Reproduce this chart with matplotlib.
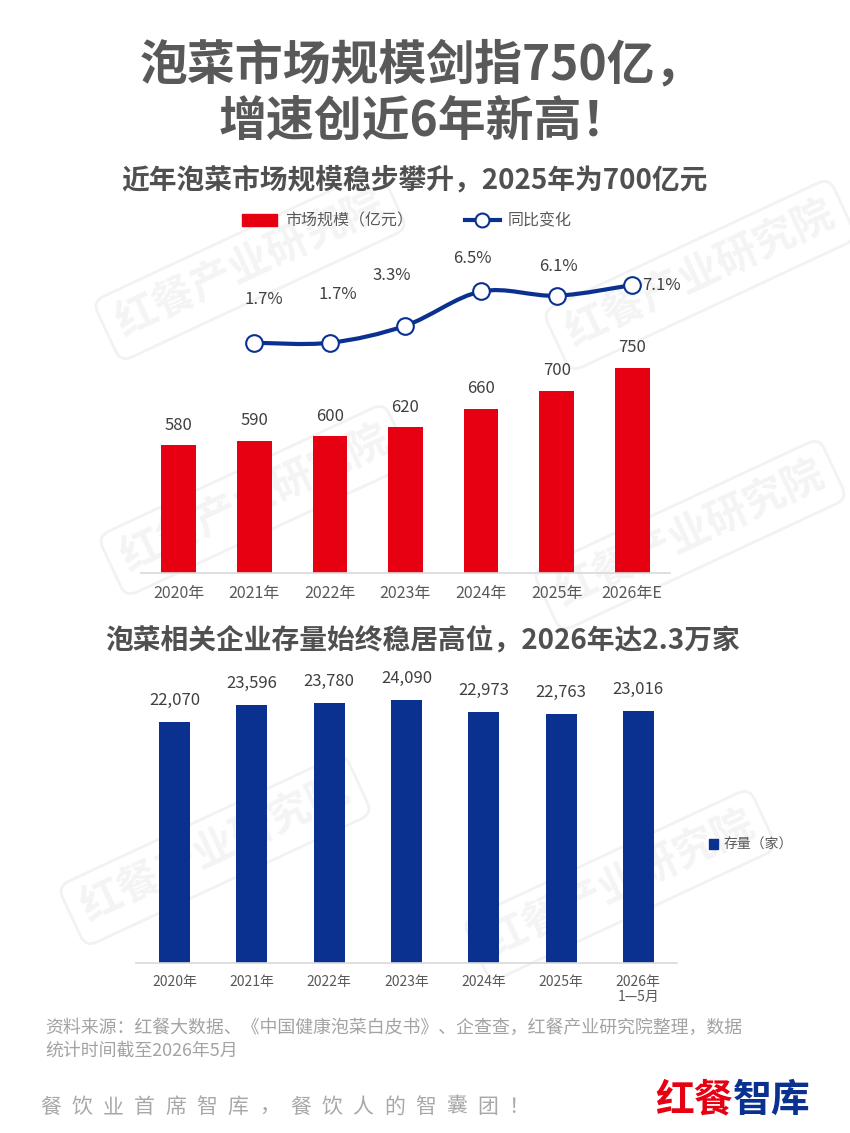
import numpy as np
import matplotlib
matplotlib.use('Agg')
import matplotlib.pyplot as plt
from matplotlib.path import Path
from matplotlib.patches import PathPatch, Patch
from matplotlib.lines import Line2D

plt.rcParams['font.family'] = ['Noto Sans CJK SC', 'DejaVu Sans']

# ---------------- data ----------------
years1 = ['2020年', '2021年', '2022年', '2023年', '2024年', '2025年', '2026年E']
market_size = [580, 590, 600, 620, 660, 700, 750]
yoy_idx = [1, 2, 3, 4, 5, 6]
yoy_growth = [1.7, 1.7, 3.3, 6.5, 6.1, 7.1]
years2 = ['2020年', '2021年', '2022年', '2023年', '2024年', '2025年', '2026年\n1—5月']
stock = [22070, 23596, 23780, 24090, 22973, 22763, 23016]

# ---------------- style ----------------
RED = '#E60012'
BLUE = '#0B3190'
TXT = '#595959'
LBL = '#404040'
W, H = 850, 1133

def fx(px):
    return px / W

def fy(py):
    return 1 - py / H

fig = plt.figure(figsize=(8.5, 11.33), dpi=100)

# watermarks
for (wx, wy) in [(250, 265), (700, 275), (255, 500), (690, 535), (215, 850), (620, 885)]:
    fig.text(fx(wx), fy(wy), '红餐产业研究院', rotation=25, fontsize=30, color='#f4f4f4',
             ha='center', va='center', fontweight='bold', zorder=-5,
             bbox=dict(boxstyle='round,pad=0.3', facecolor='none', edgecolor='#f2f2f2', lw=2))

# titles
fig.text(fx(421), fy(65), '泡菜市场规模剑指750亿，', ha='center', va='center',
         fontsize=34.5, fontweight='bold', color=TXT)
fig.text(fx(424), fy(121), '增速创近6年新高！', ha='center', va='center',
         fontsize=34.5, fontweight='bold', color=TXT)
fig.text(fx(414), fy(180), '近年泡菜市场规模稳步攀升，2025年为700亿元', ha='center', va='center',
         fontsize=20, fontweight='bold', color='#505050')
fig.text(fx(423), fy(640), '泡菜相关企业存量始终稳居高位，2026年达2.3万家', ha='center', va='center',
         fontsize=20, fontweight='bold', color='#505050')

# ---------------- chart 1 ----------------
ax1 = fig.add_axes([fx(141), fy(573), fx(529), (573 - 250) / H])
ax1.patch.set_alpha(0)
x1 = np.arange(len(years1))
ax1.bar(x1, market_size, width=0.46, color=RED, zorder=2)
ax1.set_xlim(-0.5, len(years1) - 0.5)
ax1.set_ylim(300, 1009)
ax1.set_xticks(x1)
ax1.set_xticklabels(years1)
ax1.tick_params(axis='x', length=0, pad=8.5, labelsize=11.5, labelcolor=TXT)
ax1.set_yticks([])
for s in ['top', 'left', 'right']:
    ax1.spines[s].set_visible(False)
ax1.spines['bottom'].set_color('#d9d9d9')
ax1.spines['bottom'].set_linewidth(1.2)
for xi, v in zip(x1, market_size):
    ax1.annotate(f'{v}', xy=(xi, v), xytext=(0, 14.5), textcoords='offset points',
                 ha='center', va='center', fontsize=12, color=LBL)

ax1b = ax1.twinx()
ax1b.set_ylim(-19.85, 10.38)
ax1b.set_yticks([])
for s in ax1b.spines.values():
    s.set_visible(False)

P = np.column_stack([np.array(yoy_idx, float), np.array(yoy_growth, float)])
n = len(P)
verts = [P[0]]
codes = [Path.MOVETO]
for i in range(n - 1):
    p0 = P[max(i - 1, 0)]
    p1 = P[i]
    p2 = P[i + 1]
    p3 = P[min(i + 2, n - 1)]
    verts += [p1 + (p2 - p0) / 6, p2 - (p3 - p1) / 6, p2]
    codes += [Path.CURVE4] * 3
ax1b.add_patch(PathPatch(Path(verts, codes), facecolor='none', edgecolor=BLUE, lw=3,
                         transform=ax1b.transData, zorder=3))
ax1b.plot(yoy_idx, yoy_growth, ls='none', marker='o', ms=12, mfc='white', mec=BLUE,
          mew=1.5, zorder=4)
pct_offsets = [(7, 31), (6, 35), (-10, 36), (-6.5, 24), (1, 21), (21, 0)]
for xi, v, off in zip(yoy_idx, yoy_growth, pct_offsets):
    ax1b.annotate(f'{v}%', xy=(xi, v), xytext=off, textcoords='offset points',
                  ha='center', va='center', fontsize=12, color=LBL)

fig.legend([Patch(color=RED),
            Line2D([], [], color=BLUE, lw=3, marker='o', ms=10, mfc='white', mec=BLUE, mew=1.5)],
           ['市场规模（亿元）', '同比变化'], loc='center',
           bbox_to_anchor=(fx(407), fy(221)), ncol=2, frameon=False, fontsize=11.5,
           handlelength=2.2, handletextpad=0.5, columnspacing=3.2, labelcolor=TXT)

# ---------------- chart 2 ----------------
ax2 = fig.add_axes([fx(136), fy(963), fx(541), (963 - 680) / H])
ax2.patch.set_alpha(0)
x2 = np.arange(len(years2))
ax2.bar(x2, stock, width=0.40, color=BLUE, zorder=2)
ax2.set_xlim(-0.5, len(years2) - 0.5)
ax2.set_ylim(0, 25883)
ax2.set_xticks(x2)
ax2.set_xticklabels(years2, linespacing=1.1)
ax2.tick_params(axis='x', length=0, pad=8.5, labelsize=10, labelcolor=TXT)
ax2.set_yticks([])
for s in ['top', 'left', 'right']:
    ax2.spines[s].set_visible(False)
ax2.spines['bottom'].set_color('#d9d9d9')
ax2.spines['bottom'].set_linewidth(1.2)
for xi, v in zip(x2, stock):
    ax2.annotate(f'{v:,}', xy=(xi, v), xytext=(0, 15.5), textcoords='offset points',
                 ha='center', va='center', fontsize=12, color=LBL)

fig.legend([Patch(color=BLUE)], ['存量（家）'], loc='center',
           bbox_to_anchor=(fx(751), fy(845)), frameon=False, fontsize=10,
           handlelength=0.7, handleheight=0.7, handletextpad=0.4, labelcolor=TXT)

# ---------------- source & footer ----------------
fig.text(fx(45), fy(1028), '资料来源：红餐大数据、《中国健康泡菜白皮书》、企查查，红餐产业研究院整理，数据',
         ha='left', va='center', fontsize=12.9, color='#a3a3a3')
fig.text(fx(45), fy(1051), '统计时间截至2026年5月', ha='left', va='center',
         fontsize=12.9, color='#a3a3a3')

slogan = '餐饮业首席智库，餐饮人的智囊团！'
for i, ch in enumerate(slogan):
    fig.text(fx(51 + i * 31.2), fy(1107), ch, ha='center', va='center',
             fontsize=15, color='#a8a8a8')

fig.text(fx(733), fy(1100), '红餐', ha='right', va='center', fontsize=28,
         fontweight='bold', color=RED)
fig.text(fx(733), fy(1100), '智库', ha='left', va='center', fontsize=28,
         fontweight='bold', color=BLUE)

fig.savefig('out.png', dpi=100, facecolor='white')
